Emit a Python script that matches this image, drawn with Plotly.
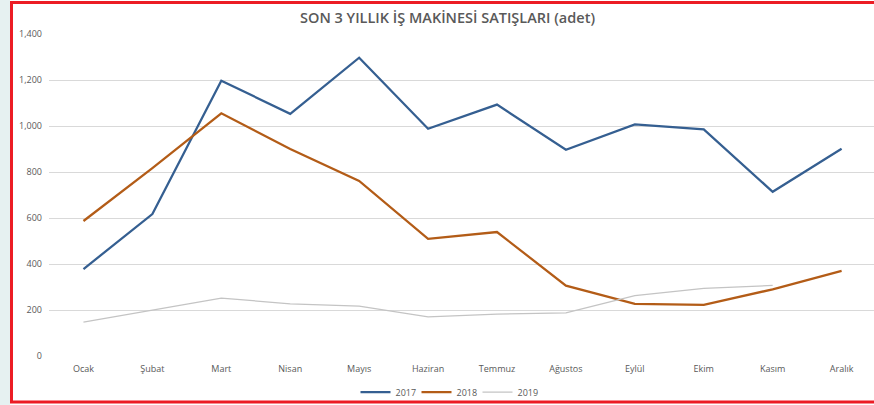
import plotly.graph_objects as go

months = ["Ocak", "Şubat", "Mart", "Nisan", "Mayıs", "Haziran", "Temmuz",
          "Ağustos", "Eylül", "Ekim", "Kasım", "Aralık"]
s2017 = [378, 617, 1197, 1053, 1297, 988, 1093, 897, 1007, 985, 714, 901]
s2018 = [587, 817, 1055, 900, 761, 509, 539, 306, 227, 222, 290, 370]
s2019 = [147, 200, 252, 227, 217, 170, 182, 188, 262, 294, 307]
title = "SON 3 YILLIK İŞ MAKİNESİ SATIŞLARI (adet)"
yticks = [0, 200, 400, 600, 800, 1000, 1200, 1400]

W, H = 874, 405
ML, MR, MT, MB = 49, 0, 34, 49

fig = go.Figure()
fig.add_trace(go.Scatter(x=months, y=s2017, name="2017", mode="lines",
                         line=dict(color="#355f91", width=2.25)))
fig.add_trace(go.Scatter(x=months, y=s2018, name="2018", mode="lines",
                         line=dict(color="#b35c17", width=2.25)))
fig.add_trace(go.Scatter(x=months[:len(s2019)], y=s2019, name="2019", mode="lines",
                         line=dict(color="#c4c4c4", width=1.25)))

pw = W - ML - MR
ph = H - MT - MB
def px_x(p):
    return (p - ML) / pw
def px_y(p):
    return (H - MB - p) / ph

fig.update_layout(
    width=W, height=H,
    margin=dict(l=ML, r=MR, t=MT, b=MB, autoexpand=False),
    paper_bgcolor="white", plot_bgcolor="white",
    font=dict(family="Open Sans", color="#595959", size=9),
    title=dict(text=title, x=447.5 / W, xref="container", y=1 - 17.5 / H,
               yref="container", yanchor="middle", xanchor="center",
               font=dict(family="Open Sans", size=14.5, color="#595959", weight=600)),
    xaxis=dict(type="category", range=[-0.5, 11.47], showgrid=False, showline=False,
               ticks="", tickfont=dict(size=9, color="#595959"), fixedrange=True,
               automargin=False, ticklabelstandoff=6),
    yaxis=dict(range=[0, 1400], tickvals=yticks, tickformat=",d", showgrid=True,
               gridcolor="#d9d9d9", gridwidth=1, zeroline=False, showline=False,
               ticks="", ticklabelstandoff=6, automargin=False,
               tickfont=dict(size=9, color="#595959"), fixedrange=True),
    showlegend=True,
    legend=dict(orientation="h", x=447 / W, xanchor="center", xref="container",
                y=px_y(392), yanchor="middle", font=dict(size=9, color="#595959"),
                entrywidth=16, entrywidthmode="pixels",
                tracegroupgap=0, bgcolor="rgba(0,0,0,0)"),
    shapes=[
        dict(type="rect", xref="paper", yref="paper", x0=px_x(0), x1=px_x(10),
             y0=px_y(H), y1=px_y(0), fillcolor="#e6f1f1", line=dict(width=0),
             layer="above"),
        dict(type="rect", xref="paper", yref="paper", x0=px_x(11.5), x1=px_x(W + 10),
             y0=px_y(402), y1=px_y(2.5), fillcolor="rgba(0,0,0,0)",
             line=dict(color="#ec1c24", width=3), layer="above"),
    ],
)
fig.write_html("out.html", config={"displayModeBar": False},
               post_script="document.body.style.margin='0';document.body.style.overflow='hidden';")
